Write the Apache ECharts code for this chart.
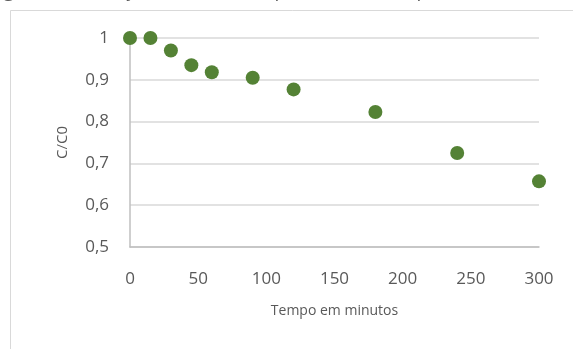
<!DOCTYPE html>
<html><head><meta charset="utf-8">
<script src="https://cdn.jsdelivr.net/npm/echarts@6/dist/echarts.min.js"></script>
<style>html,body{margin:0;padding:0;background:#fff}#c{width:573px;height:349px}</style>
</head><body><div id="c"></div>
<script>
const tempo = [0, 15, 30, 45, 60, 90, 120, 180, 240, 300];
const cc0 = [1.0, 1.0, 0.970, 0.935, 0.918, 0.905, 0.877, 0.823, 0.725, 0.657];
const xTicks = [0, 50, 100, 150, 200, 250, 300];
const yTicks = [0.5, 0.6, 0.7, 0.8, 0.9, 1];
const caption = 'Figura 5 - remoção de bentazon para o tecido suporte';
const xName = 'Tempo em minutos';
const yName = 'C/C0';

const font = 'Open Sans';
const chart = echarts.init(document.getElementById('c'), null, {renderer: 'canvas'});
chart.setOption({
  animation: false,
  backgroundColor: '#fff',
  graphic: [
    {type: 'rect', shape: {x: 10.5, y: 10.5, width: 600, height: 400},
     style: {fill: 'none', stroke: '#d9d9d9', lineWidth: 1}, silent: true},
    {type: 'text', left: -11, top: -18,
     style: {text: caption, font: '19px "Open Sans"', fill: '#595959'}}
  ],
  grid: {left: 130, right: 34, top: 38, bottom: 102},
  xAxis: {
    type: 'value', min: 0, max: 300, interval: 50,
    name: xName, nameLocation: 'middle', nameGap: 57,
    nameTextStyle: {fontFamily: font, fontSize: 14, color: '#595959'},
    axisLine: {show: true, lineStyle: {color: '#bfbfbf', width: 1.5}},
    axisTick: {show: false},
    splitLine: {show: false},
    axisLabel: {fontFamily: font, fontSize: 17, color: '#595959', margin: 24,
      formatter: v => xTicks.includes(v) ? String(v) : ''}
  },
  yAxis: {
    type: 'value', min: 0.5, max: 1, interval: 0.1,
    name: yName, nameLocation: 'middle', nameGap: 60, nameRotate: 90,
    nameTextStyle: {fontFamily: font, fontSize: 15, color: '#595959'},
    axisLine: {show: true, lineStyle: {color: '#bfbfbf', width: 1.5}},
    axisTick: {show: false},
    splitLine: {show: true, lineStyle: {color: '#d9d9d9', width: 1.5}},
    axisLabel: {fontFamily: font, fontSize: 17, color: '#595959', margin: 21,
      formatter: v => {
        const r = Math.round(v * 10) / 10;
        return yTicks.includes(r) ? String(r).replace('.', ',') : '';
      }}
  },
  series: [{
    type: 'scatter',
    data: tempo.map((t, i) => [t, cc0[i]]),
    symbol: 'circle', symbolSize: 14,
    itemStyle: {color: '#548235', opacity: 1}
  }]
});
</script></body></html>
